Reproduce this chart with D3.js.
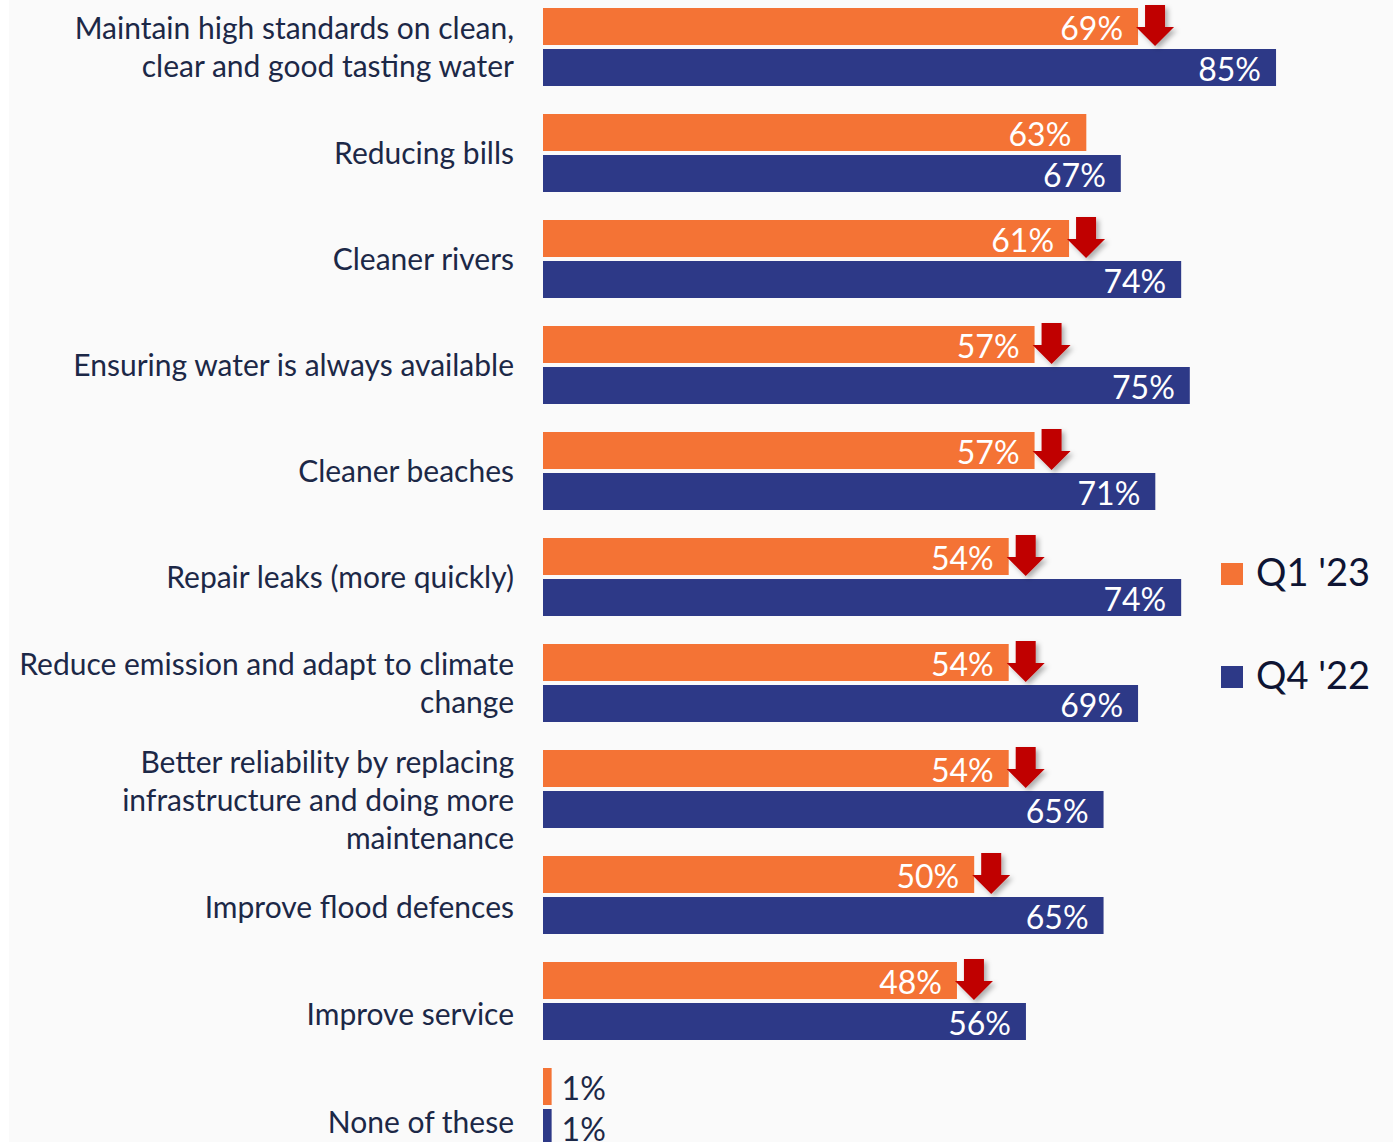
<!DOCTYPE html>
<html>
<head>
<meta charset="utf-8">
<script src="https://cdn.jsdelivr.net/npm/d3@7"></script>
<style>
  html, body { margin: 0; padding: 0; background: #ffffff; }
  svg { display: block; }
</style>
</head>
<body>
<svg id="chart" width="1393" height="1142"></svg>
<script>
// Priorities for the water company, share of respondents
const categories = [
  "Maintain high standards on clean,\nclear and good tasting water",
  "Reducing bills",
  "Cleaner rivers",
  "Ensuring water is always available",
  "Cleaner beaches",
  "Repair leaks (more quickly)",
  "Reduce emission and adapt to climate\nchange",
  "Better reliability by replacing\ninfrastructure and doing more\nmaintenance",
  "Improve flood defences",
  "Improve service",
  "None of these"
];
const seriesNames = ["Q1 '23", "Q4 '22"];
const q1_23 = [69, 63, 61, 57, 57, 54, 54, 54, 50, 48, 1];
const q4_22 = [85, 67, 74, 75, 71, 74, 69, 65, 65, 56, 1];
// true where the latest wave fell versus the previous one
const declined = [true, false, true, true, true, true, true, true, true, true, false];

const colors = { "Q1 '23": "#F47335", "Q4 '22": "#2D3987" };
const textDark = "#1C2847";
const arrowRed = "#C00000";

const svg = d3.select("#chart");

// soft panel behind the chart
svg.append("rect").attr("x", 9).attr("y", 0).attr("width", 1384).attr("height", 1142)
  .attr("fill", "#FAFAFA");

const defs = svg.append("defs");
const shadow = defs.append("filter").attr("id", "arrowShadow")
  .attr("x", "-50%").attr("y", "-50%").attr("width", "200%").attr("height", "200%");
shadow.append("feDropShadow").attr("dx", 3).attr("dy", 3).attr("stdDeviation", 2.5)
  .attr("flood-color", "#000").attr("flood-opacity", 0.3);

const rows = categories.map((c, i) => ({
  cat: c, i,
  values: [
    { key: seriesNames[0], v: q1_23[i] },
    { key: seriesNames[1], v: q4_22[i] }
  ],
  down: declined[i]
}));

const x = d3.scaleLinear().domain([0, 100]).range([543, 543 + 862.4]);
const y = d3.scaleBand().domain(categories).range([8, 1146]).paddingInner(28 / 106).paddingOuter(0);
const ySub = d3.scaleBand().domain(seriesNames).range([0, y.bandwidth()]).paddingInner(4 / 41);
// label block centres: aligned with the bars at the top, drifting lower after the three-line label
const yLabel = d3.scaleLinear().domain([0, 6, 7, 10]).range([47, 683, 800, 1122]);

const groups = svg.append("g").selectAll("g.row").data(rows).join("g")
  .attr("class", "row")
  .attr("transform", d => `translate(0,${y(d.cat)})`);

groups.selectAll("rect.bar").data(d => d.values).join("rect")
  .attr("class", "bar")
  .attr("x", x(0))
  .attr("y", d => ySub(d.key))
  .attr("width", d => x(d.v) - x(0))
  .attr("height", ySub.bandwidth())
  .attr("fill", d => colors[d.key]);

// value labels: inside the bar end, or beside a tiny bar
groups.selectAll("text.val").data(d => d.values).join("text")
  .attr("class", "val")
  .attr("x", d => d.v < 10 ? x(d.v) + 10 : x(d.v) - 15)
  .attr("y", d => ySub(d.key) + 31.5)
  .attr("text-anchor", d => d.v < 10 ? "start" : "end")
  .attr("fill", d => d.v < 10 ? textDark : "#ffffff")
  .style("font-family", "Lato, 'Open Sans', sans-serif")
  .style("font-size", "32px")
  .text(d => d.v + "%");

// downward arrows after the latest-wave bar
const arrow = (cx, top) => {
  const sw = 10, hw = 19, shaftEnd = top + 22, tip = top + 41;
  return `M${cx - sw},${top} L${cx + sw},${top} L${cx + sw},${shaftEnd} L${cx + hw},${shaftEnd}` +
         ` L${cx},${tip} L${cx - hw},${shaftEnd} L${cx - sw},${shaftEnd} Z`;
};
groups.filter(d => d.down).append("path")
  .attr("d", d => arrow(x(d.values[0].v) + 17, ySub(seriesNames[0]) - 3))
  .attr("fill", arrowRed)
  .attr("filter", "url(#arrowShadow)");

// category labels
const lineH = 38;
const labels = svg.append("g").selectAll("text.cat").data(rows).join("text")
  .attr("class", "cat")
  .attr("text-anchor", "end")
  .attr("fill", textDark)
  .style("font-family", "Lato, 'Open Sans', sans-serif")
  .style("font-size", "30px");
labels.each(function(d) {
  const lines = d.cat.split("\n");
  const c = yLabel(d.i);
  const first = c - (lines.length - 1) * lineH / 2 + 10.5;
  d3.select(this).selectAll("tspan").data(lines).join("tspan")
    .attr("x", 514)
    .attr("y", (l, k) => first + k * lineH)
    .text(l => l);
});

// legend
const legend = svg.append("g").selectAll("g").data(seriesNames).join("g")
  .attr("transform", (d, i) => `translate(1221,${563 + i * 103})`);
legend.append("rect").attr("width", 22).attr("height", 22).attr("fill", d => colors[d]);
legend.append("text")
  .attr("x", 35).attr("y", 23)
  .attr("fill", "#0E1433")
  .style("font-family", "Lato, 'Open Sans', sans-serif")
  .style("font-size", "38px")
  .text(d => d);
</script>
</body>
</html>
